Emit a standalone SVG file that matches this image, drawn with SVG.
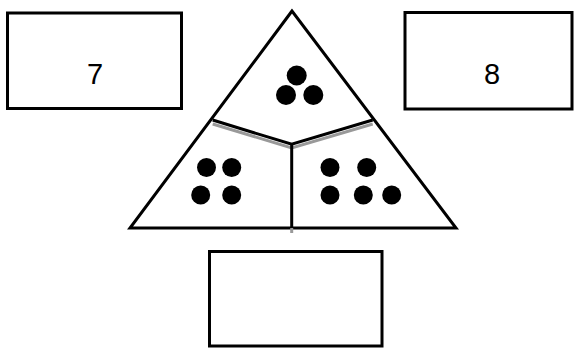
<svg xmlns="http://www.w3.org/2000/svg" width="575" height="349" viewBox="0 0 575 349">
<style>
.box{fill:#fff;stroke:#000;stroke-width:3}
.lbl{font-family:"Liberation Sans",Arial,sans-serif;font-size:29px;fill:#000;text-anchor:middle}
.edge{fill:none;stroke:#000;stroke-width:3}
.shadow{fill:none;stroke:#999;stroke-width:3}
.dot{fill:#000}
</style>
<rect width="575" height="349" fill="#fff"/>
<g id="box-left">
<rect class="box" x="7.5" y="13" width="174" height="95.5"/>
<text class="lbl" x="95" y="84">7</text>
</g>
<g id="box-right">
<rect class="box" x="405" y="12.5" width="167" height="96.5"/>
<text class="lbl" x="492" y="84">8</text>
</g>
<g id="box-bottom">
<rect class="box" x="209.5" y="251.5" width="172.5" height="94.5"/>
</g>
<g id="triangle">
<polygon class="edge" points="292,11 130,228 456,228" stroke-linejoin="miter"/>
</g>
<g id="connectors">
<polyline class="shadow" points="212.7,124 291.7,148 372.7,124"/>
<line class="shadow" x1="291.7" y1="228" x2="291.7" y2="233"/>
<polyline class="edge" points="212.7,120 291.7,144.3 372.7,120"/>
<line class="edge" x1="291.7" y1="144.3" x2="291.7" y2="228"/>
</g>
<g id="dots-top">
<circle class="dot" cx="296.7" cy="75.5" r="10"/>
<circle class="dot" cx="286" cy="95" r="10"/>
<circle class="dot" cx="313.3" cy="95" r="10"/>
</g>
<g id="dots-left">
<circle class="dot" cx="206.5" cy="167.5" r="9.5"/>
<circle class="dot" cx="231.7" cy="167.5" r="9.5"/>
<circle class="dot" cx="200.7" cy="195" r="9.5"/>
<circle class="dot" cx="231.7" cy="195" r="9.5"/>
</g>
<g id="dots-right">
<circle class="dot" cx="330" cy="167.5" r="9.5"/>
<circle class="dot" cx="366.7" cy="167.5" r="9.5"/>
<circle class="dot" cx="330" cy="195" r="9.5"/>
<circle class="dot" cx="363.3" cy="195" r="9.5"/>
<circle class="dot" cx="391.7" cy="195" r="9.5"/>
</g>
</svg>
